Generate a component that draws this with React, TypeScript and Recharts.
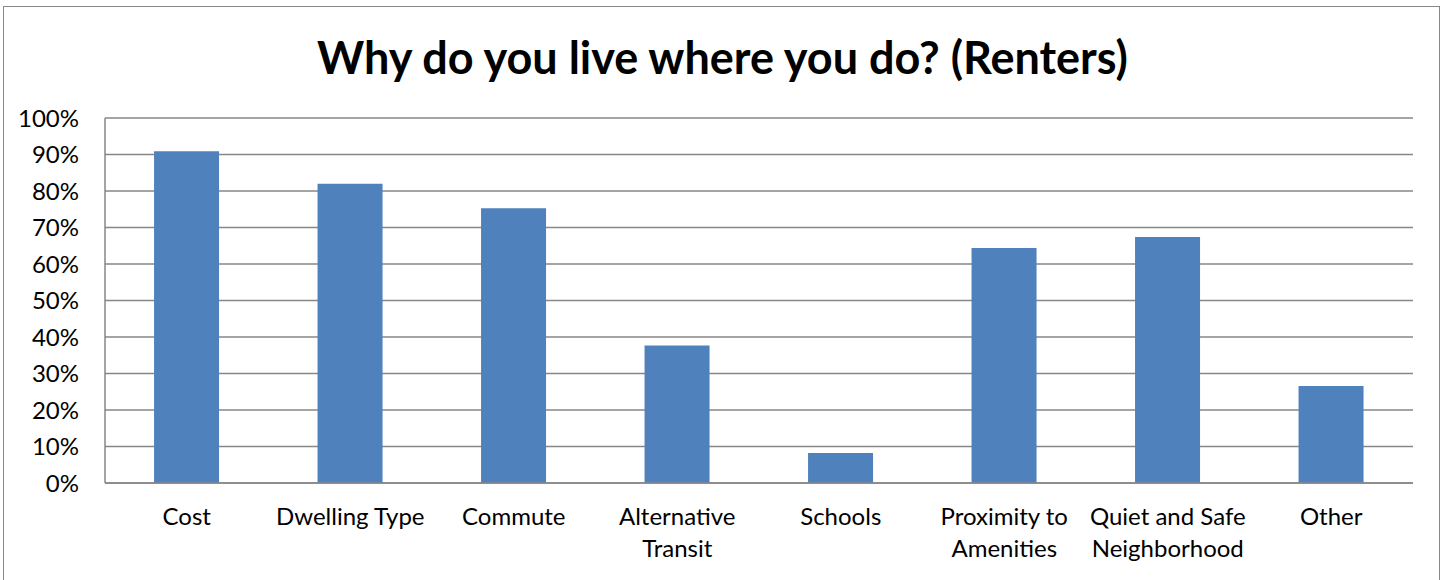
import React from "react"
import { BarChart, Bar, XAxis, YAxis, CartesianGrid } from "recharts"

const categories = [
    "Cost",
    "Dwelling Type",
    "Commute",
    "Alternative\nTransit",
    "Schools",
    "Proximity to\nAmenities",
    "Quiet and Safe\nNeighborhood",
    "Other",
]

const shares = [0.909, 0.82, 0.753, 0.377, 0.082, 0.644, 0.674, 0.266]

const yTicks = [0, 0.1, 0.2, 0.3, 0.4, 0.5, 0.6, 0.7, 0.8, 0.9, 1]

const data = categories.map((category, i) => ({ category, share: shares[i] }))

const FONT = "Lato, 'Open Sans', sans-serif"
const GRID = "#878787"

function CategoryTick(props: any) {
    const { x, y, payload } = props
    const lines = String(payload.value).split("\n")
    return (
        <text x={x} y={y} textAnchor="middle" fill="#000" fontSize={24} fontFamily={FONT}>
            {lines.map((line, i) => (
                <tspan key={i} x={x} dy={i === 0 ? 34 : 32}>
                    {line}
                </tspan>
            ))}
        </text>
    )
}

export default function App() {
    return (
        <div style={{ position: "fixed", left: 0, top: 0, width: 1445, height: 580, background: "#fff", overflow: "hidden" }}>
            <div
                style={{
                    position: "absolute",
                    left: 3,
                    top: 6,
                    width: 1437,
                    height: 600,
                    border: "1.5px solid #888",
                    boxSizing: "border-box",
                }}
            />
            <div
                style={{
                    position: "absolute",
                    left: 0,
                    top: 30,
                    width: 1445,
                    textAlign: "center",
                    fontFamily: FONT,
                    fontWeight: 700,
                    fontSize: 45,
                    lineHeight: "54px",
                    color: "#000",
                }}
            >
                Why do you live where you do? (Renters)
            </div>
            <div style={{ position: "absolute", left: 0, top: 0 }}>
                <BarChart
                    width={1445}
                    height={580}
                    data={data}
                    margin={{ top: 118, right: 32, left: 0, bottom: 0 }}
                    barCategoryGap="30%"
                >
                    <CartesianGrid vertical={false} stroke={GRID} strokeWidth={1.5} />
                    <XAxis
                        dataKey="category"
                        interval={0}
                        tickLine={false}
                        axisLine={{ stroke: GRID, strokeWidth: 1.5 }}
                        tick={<CategoryTick />}
                        height={97}
                    />
                    <YAxis
                        width={105}
                        domain={[0, 1]}
                        ticks={yTicks}
                        interval={0}
                        tickFormatter={(v: number) => `${Math.round(v * 100)}%`}
                        tickLine={false}
                        tickSize={0}
                        tickMargin={26}
                        axisLine={{ stroke: GRID, strokeWidth: 1.5 }}
                        tick={{ fontSize: 24, fill: "#000", fontFamily: FONT }}
                    />
                    <Bar dataKey="share" fill="#4F81BD" isAnimationActive={false} />
                </BarChart>
            </div>
        </div>
    )
}
